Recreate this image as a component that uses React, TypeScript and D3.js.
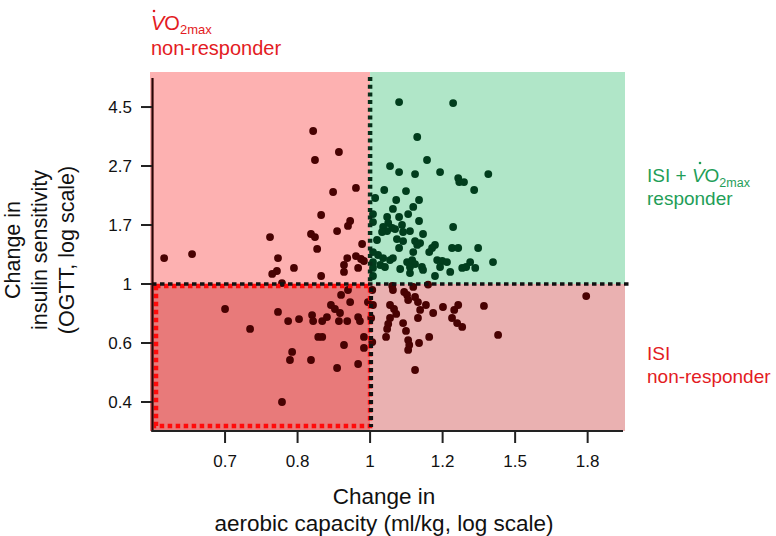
import React from "react";
import * as d3 from "d3";

const W = 776;
const H = 536;
const FONT = "'Liberation Sans', Arial, Helvetica, sans-serif";

// natural-log change values (x: aerobic capacity, y: insulin sensitivity)
const vo2LogChange = [
  // upper-left
  -0.568, -0.491, -0.157, -0.086, -0.152, -0.102, -0.039, -0.135, -0.055, -0.061, -0.091, -0.276, -0.163, -0.152, -0.146,
  -0.022, -0.254, -0.257, -0.27, -0.21, -0.135, -0.063, -0.072, -0.039, -0.025, -0.017, -0.033, -0.072, -0.243,
  // upper-right
  0.08, 0.229, 0.13, 0.157, 0.055, 0.08, 0.124, 0.193, 0.243, 0.246, 0.259, 0.326, 0.287, 0.039, 0.099, 0.014, 0.072,
  0.135, 0.119, 0.063, 0.008, 0.047, 0.08, 0.105, 0.135, 0.008, 0.05, 0.036, 0.061, 0.047, 0.033, 0.069, 0.088, 0.11,
  0.091, 0.229, 0.146, 0.019, 0.074, 0.091, 0.124, 0.138, 0.13, 0.179, 0.171, 0.163, 0.08, 0.119, 0.226, 0.243, 0.298,
  0.022, 0.036, 0.055, 0.028, 0.041, 0.063, 0.008, 0.008, 0.008, 0.102, 0.116, 0.124, 0.11, 0.143, 0.083, 0.185, 0.199,
  0.212, 0.193, 0.221, 0.276, 0.265, 0.254, 0.29, 0.339, 0.179, 0.146, 0.11, 0.008,
  // lower-right
  0.061, 0.063, 0.094, 0.102, 0.119, 0.16, 0.124, 0.132, 0.105, 0.138, 0.132, 0.154, 0.055, 0.066, 0.072, 0.055, 0.05,
  0.047, 0.091, 0.099, 0.044, 0.105, 0.108, 0.105, 0.135, 0.163, 0.174, 0.201, 0.232, 0.243, 0.226, 0.24, 0.254, 0.314,
  0.353, 0.124, 0.596, 0.008, 0.006, 0.003, 0.006,
  // lower-left
  -0.4, -0.331, -0.254, -0.226, -0.196, -0.16, -0.157, -0.132, -0.119, -0.108, -0.097, -0.083, -0.086, -0.063, -0.08,
  -0.061, -0.055, -0.033, -0.028, -0.143, -0.132, -0.215, -0.221, -0.163, -0.091, -0.033, -0.072, -0.017, -0.017,
  -0.243, -0.006,
];

const isiLogChange = [
  // upper-left
  0.22, 0.254, 1.297, 1.119, 1.051, 0.78, 0.814, 0.585, 0.534, 0.492, 0.449, 0.398, 0.424, 0.398, 0.297, 0.339, 0.22,
  0.11, 0.085, 0.136, 0.068, 0.22, 0.161, 0.237, 0.212, 0.195, 0.136, 0.102, 0.008,
  // upper-right
  1.542, 1.534, 1.246, 1.051, 1.0, 0.949, 0.932, 0.949, 0.898, 0.864, 0.864, 0.932, 0.797, 0.797, 0.788, 0.729, 0.712,
  0.712, 0.653, 0.636, 0.593, 0.568, 0.568, 0.593, 0.534, 0.525, 0.517, 0.483, 0.475, 0.449, 0.441, 0.466, 0.5, 0.449,
  0.441, 0.483, 0.424, 0.373, 0.381, 0.364, 0.364, 0.347, 0.331, 0.331, 0.305, 0.271, 0.305, 0.271, 0.305, 0.305, 0.305,
  0.246, 0.22, 0.203, 0.161, 0.144, 0.22, 0.271, 0.186, 0.136, 0.186, 0.203, 0.169, 0.144, 0.144, 0.127, 0.203, 0.195,
  0.186, 0.144, 0.102, 0.186, 0.144, 0.136, 0.136, 0.186, 0.068, 0.119, 0.093, 0.068,
  // lower-right
  -0.017, -0.051, -0.068, -0.093, -0.025, -0.005, -0.11, -0.153, -0.136, -0.22, -0.288, -0.178, -0.178, -0.212, -0.254,
  -0.288, -0.339, -0.381, -0.331, -0.398, -0.449, -0.475, -0.517, -0.559, -0.5, -0.449, -0.246, -0.195, -0.22, -0.178,
  -0.288, -0.331, -0.364, -0.186, -0.432, -0.729, -0.102, -0.178, -0.051, -0.288, -0.492,
  // lower-left
  -0.212, -0.381, -0.237, -0.314, -0.297, -0.263, -0.314, -0.314, -0.28, -0.178, -0.212, -0.246, -0.314, -0.314, -0.093,
  -0.051, -0.153, -0.28, -0.314, -0.449, -0.449, -0.576, -0.644, -0.644, -0.712, -0.678, -0.517, -0.449, -0.542, -1.0,
  -0.153,
];

const xTickValues = [-0.4, -0.2, 0, 0.2, 0.4, 0.6];
const xTickLabels = ["0.7", "0.8", "1", "1.2", "1.5", "1.8"];
const yTickValues = [-1, -0.5, 0, 0.5, 1, 1.5];
const yTickLabels = ["0.4", "0.6", "1", "1.7", "2.7", "4.5"];

const xDomain = [-0.607, 0.703];
const yDomain = [-1.246, 1.797];

const RED_TXT = "#e31b23";
const GREEN_TXT = "#1f9e58";

export default function App() {
  const x = d3.scaleLinear().domain(xDomain).range([150, 625]);
  const y = d3.scaleLinear().domain(yDomain).range([431, 72]);
  const [x0, x1] = x.range();
  const [yb, yt] = y.range();
  const cx = x(0);
  const cy = y(0);

  const pts = vo2LogChange.map((v, i) => ({ v, s: isiLogChange[i] }));

  return (
    <svg
      width={W}
      height={H}
      viewBox={`0 0 ${W} ${H}`}
      style={{ position: "fixed", left: 0, top: 0, background: "#fff" }}
      fontFamily={FONT}
    >
      {/* quadrants */}
      <rect x={x0} y={yt} width={cx - x0} height={cy - yt} fill="#fdb1b1" />
      <rect x={cx} y={yt} width={x1 - cx} height={cy - yt} fill="#b0e6c8" />
      <rect x={cx} y={cy} width={x1 - cx} height={yb - cy} fill="#eab1b1" />
      <rect x={x0} y={cy} width={cx - x0} height={yb - cy} fill="#e87a7a" />

      {/* points */}
      {pts.map((p, i) => (
        <circle
          key={i}
          cx={x(p.v)}
          cy={y(p.s)}
          r={3.9}
          fill={p.v > 0 && p.s > 0 ? "#013d1d" : "#480202"}
        />
      ))}

      {/* dotted reference lines */}
      <line x1={cx} x2={cx} y1={yt + 5} y2={cy} stroke="#06301a" strokeWidth={4.5} strokeDasharray="4 3.7" />
      <rect
        x={x0 + 6}
        y={cy + 2}
        width={cx - x0 - 6}
        height={yb - 5 - cy - 2}
        fill="none"
        stroke="#ff0a0a"
        strokeWidth={4.5}
        strokeDasharray="4.5 3.5"
      />
      <line x1={cx + 1} x2={cx + 1} y1={cy} y2={yb - 4} stroke="#111" strokeWidth={4} strokeDasharray="4 4" strokeDashoffset={4} />
      <line x1={x0 + 2} x2={x1 + 5} y1={cy} y2={cy} stroke="#111" strokeWidth={3.5} strokeDasharray="4.5 3.5" />

      {/* axes */}
      <line x1={x0 + 2.5} x2={x0 + 2.5} y1={yt + 6} y2={yb + 1} stroke="#2a0505" strokeWidth={2.2} />
      <line x1={x0 + 1.5} x2={x1 - 2} y1={yb} y2={yb} stroke="#222" strokeWidth={2.2} />
      {yTickValues.map((t, i) => (
        <g key={"y" + i}>
          <line x1={x0 - 9} x2={x0 + 2} y1={y(t)} y2={y(t)} stroke="#222" strokeWidth={2} />
          <text x={x0 - 18} y={y(t) + 6} textAnchor="end" fontSize={17} fill="#111">
            {yTickLabels[i]}
          </text>
        </g>
      ))}
      {xTickValues.map((t, i) => (
        <g key={"x" + i}>
          <line x1={x(t)} x2={x(t)} y1={yb} y2={yb + 12} stroke="#222" strokeWidth={2} />
          <text x={x(t)} y={yb + 36} textAnchor="middle" fontSize={17} fill="#111">
            {xTickLabels[i]}
          </text>
        </g>
      ))}

      {/* axis titles */}
      <text x={384} y={504} textAnchor="middle" fontSize={22.5} fill="#111">
        Change in
      </text>
      <text x={384} y={531} textAnchor="middle" fontSize={22.5} fill="#111">
        aerobic capacity (ml/kg, log scale)
      </text>
      <g transform="translate(0,250) rotate(-90)">
        <text x={0} y={20} textAnchor="middle" fontSize={21.5} fill="#111">
          Change in
        </text>
        <text x={0} y={47} textAnchor="middle" fontSize={21.5} fill="#111">
          insulin sensitivity
        </text>
        <text x={0} y={74} textAnchor="middle" fontSize={21.5} fill="#111">
          (OGTT, log scale)
        </text>
      </g>

      {/* quadrant labels */}
      <g fill={RED_TXT}>
        <circle cx={154} cy={11} r={1.3} />
        <text x={151} y={30} fontSize={20}>
          <tspan fontStyle="italic">V</tspan>
          <tspan>O</tspan>
          <tspan fontSize={13} dy={4}>2max</tspan>
        </text>
        <text x={151} y={55} fontSize={20}>
          non-responder
        </text>
      </g>
      <g fill={GREEN_TXT}>
        <circle cx={700} cy={163} r={1.3} />
        <text x={647} y={182} fontSize={19}>
          ISI + <tspan fontStyle="italic">V</tspan>
          <tspan>O</tspan>
          <tspan fontSize={12.5} dy={5}>2max</tspan>
        </text>
        <text x={647} y={205} fontSize={19}>
          responder
        </text>
      </g>
      <g fill={RED_TXT}>
        <text x={647} y={360} fontSize={19}>
          ISI
        </text>
        <text x={647} y={383} fontSize={19}>
          non-responder
        </text>
      </g>
    </svg>
  );
}
